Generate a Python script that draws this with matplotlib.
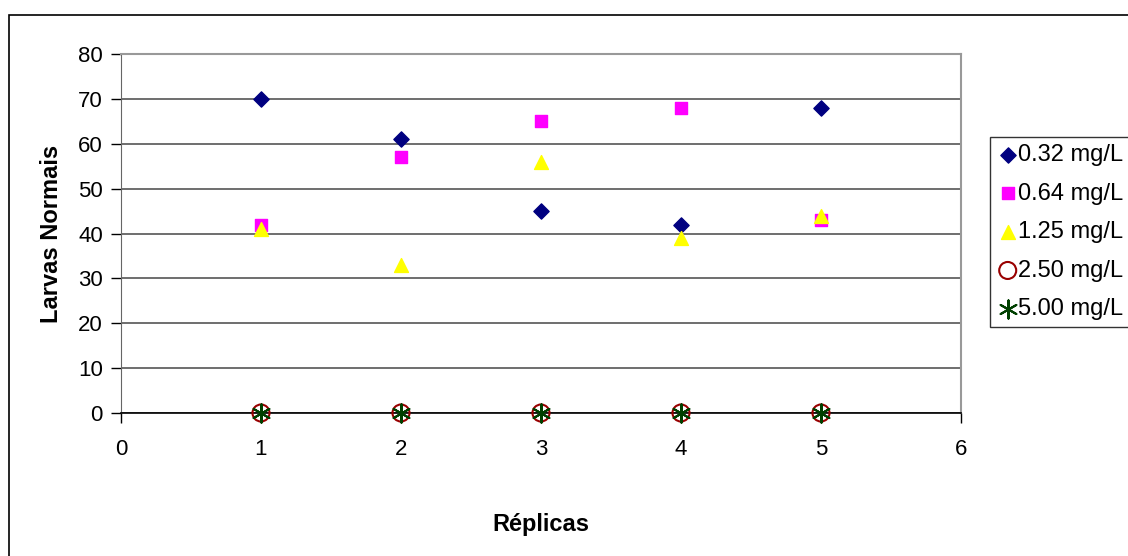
import matplotlib
matplotlib.use('Agg')
import matplotlib.pyplot as plt
from matplotlib.patches import Rectangle

# Data
replicas = [1, 2, 3, 4, 5]
conc_032 = [70, 61, 45, 42, 68]
conc_064 = [42, 57, 65, 68, 43]
conc_125 = [41, 33, 56, 39, 44]
conc_250 = [0, 0, 0, 0, 0]
conc_500 = [0, 0, 0, 0, 0]
labels = ['0.32 mg/L', '0.64 mg/L', '1.25 mg/L', '2.50 mg/L', '5.00 mg/L']

plt.rcParams['font.family'] = ['Liberation Sans', 'DejaVu Sans']

fig = plt.figure(figsize=(11.28, 5.56), dpi=100)
ax = fig.add_axes([121 / 1128, 1 - 413 / 556, 840 / 1128, 359 / 556])

# outer chart frame (clipped at the right and bottom like the original)
fig.patches.append(Rectangle((9 / 1128, -0.01), 1.02, 1 - 15 / 556 + 0.01,
                             transform=fig.transFigure, fill=False,
                             edgecolor='black', linewidth=1.2))

ax.scatter(replicas, conc_032, marker='D', s=60, color='#000080', label=labels[0], zorder=3)
ax.scatter(replicas, conc_064, marker='s', s=70, color='#FF00FF', label=labels[1], zorder=3)
ax.scatter(replicas, conc_125, marker='^', s=100, color='#FFFF00', label=labels[2], zorder=3)
ax.scatter(replicas, conc_250, marker='o', s=150, facecolors='none', edgecolors='#990000',
           linewidths=1.5, label=labels[3], zorder=4, clip_on=False)
ax.scatter(replicas, conc_500, marker=(6, 2, 0), s=170, color='#004000',
           linewidths=1.5, label=labels[4], zorder=5, clip_on=False)

ax.set_xlim(0, 6)
ax.set_ylim(0, 80)
ax.set_xticks(range(0, 7))
ax.set_yticks(range(0, 81, 10))
ax.grid(axis='y', color='#555555', linewidth=1.2)
ax.set_axisbelow(True)

for side in ['top', 'right']:
    ax.spines[side].set_color('#999999')
    ax.spines[side].set_linewidth(1.5)
ax.spines['left'].set_color('#666666')
ax.spines['bottom'].set_color('black')
ax.spines['bottom'].set_linewidth(1.2)

ax.tick_params(axis='both', labelsize=16, length=7, width=1, direction='out')
ax.tick_params(axis='x', pad=12)
ax.tick_params(axis='y', pad=6)

ax.set_xlabel('Réplicas', fontsize=17, fontweight='bold', labelpad=38)
ax.set_ylabel('Larvas Normais', fontsize=17, fontweight='bold', labelpad=11)

leg = fig.legend(loc='upper left', bbox_to_anchor=(990 / 1128, 1 - 137 / 556),
                 fontsize=17, frameon=True, fancybox=False, edgecolor='black',
                 handletextpad=0.0, borderpad=0.3, labelspacing=0.7,
                 handlelength=0.9, borderaxespad=0)
leg.get_frame().set_linewidth(1.0)

fig.savefig('out.png', dpi=100)
